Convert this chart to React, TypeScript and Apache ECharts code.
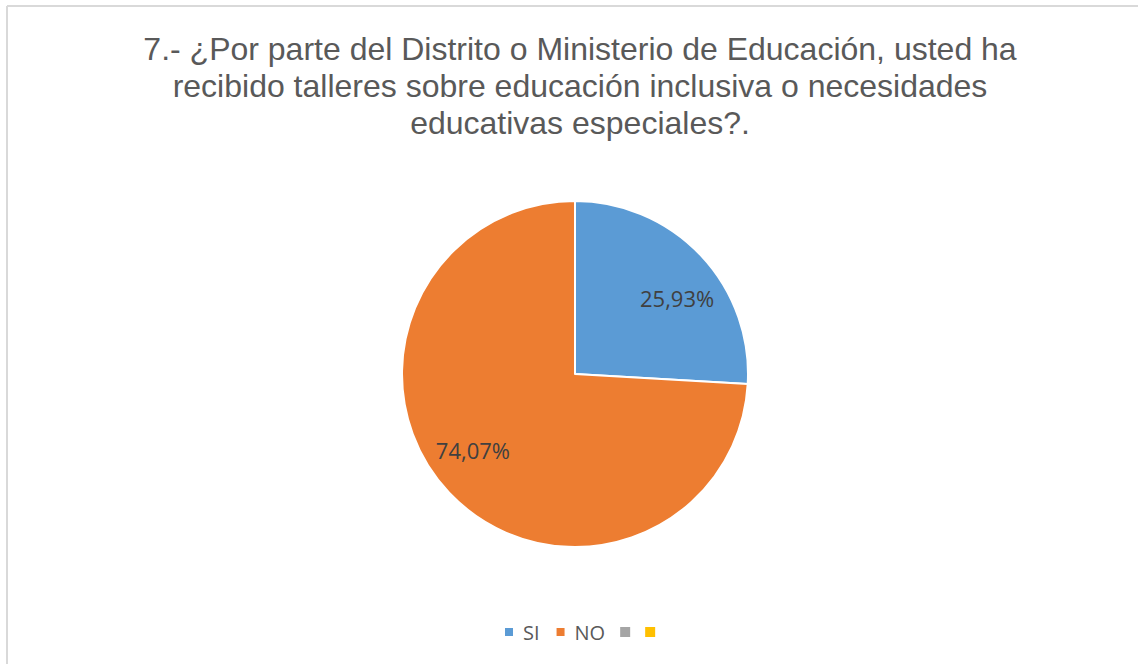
import React, { useEffect, useRef } from "react";
import * as echarts from "echarts";

const titleLines = [
  "7.- ¿Por parte del Distrito o Ministerio de Educación, usted ha",
  "recibido talleres sobre educación inclusiva o necesidades",
  "educativas especiales?.",
];
const categories = ["SI", "NO", "", ""];
const values = [25.93, 74.07, 0, 0];
const colors = ["#5B9BD5", "#ED7D31", "#A5A5A5", "#FFC000"];

const keyOf = (i: number) => categories[i] || `_empty${i}`;

export default function App() {
  const ref = useRef<HTMLDivElement>(null);
  useEffect(() => {
    if (!ref.current) return;
    const chart = echarts.init(ref.current, null, { renderer: "svg" });
    const center = [575, 374];
    const r = 173;
    const pieData = values.map((v, i) => ({
      name: keyOf(i),
      value: v,
      itemStyle: { color: colors[i], borderWidth: v > 0 ? 2 : 0 },
    }));
    const labelData = values.map((v, i) => ({
      name: keyOf(i),
      value: v,
      label: { show: v > 0 },
      itemStyle: { color: "transparent", borderWidth: 0 },
    }));
    chart.setOption({
      animation: false,
      backgroundColor: "#ffffff",
      title: {
        text: titleLines.join("\n"),
        left: 575,
        top: 25,
        textAlign: "center",
        textStyle: {
          fontFamily: "Liberation Sans, Arial, sans-serif",
          fontSize: 32,
          fontWeight: "normal",
          color: "#595959",
          lineHeight: 37,
        },
      },
      legend: {
        left: 498,
        top: 617,
        itemWidth: 10,
        itemHeight: 10,
        itemGap: 15,
        icon: "rect",
        data: categories.map((c, i) => ({
          name: keyOf(i),
          itemStyle: { color: colors[i] },
        })),
        formatter: (name: string) => {
          const idx = categories.findIndex((_, i) => keyOf(i) === name);
          return idx >= 0 ? categories[idx] : name;
        },
        textStyle: {
          fontFamily: "Open Sans, sans-serif",
          fontSize: 20,
          color: "#595959",
          padding: [0, 0, 0, 4],
        },
      },
      graphic: [
        { type: "line", shape: { x1: 7, y1: 6, x2: 1138, y2: 6 }, style: { stroke: "#d9d9d9", lineWidth: 2 } },
        { type: "line", shape: { x1: 7, y1: 6, x2: 7, y2: 664 }, style: { stroke: "#d9d9d9", lineWidth: 2 } },
      ],
      series: [
        {
          type: "pie",
          center,
          radius: r,
          startAngle: 90,
          clockwise: true,
          silent: true,
          label: { show: false },
          labelLine: { show: false },
          itemStyle: { borderColor: "#ffffff" },
          emphasis: { disabled: true },
          data: pieData,
        },
        {
          type: "pie",
          center,
          radius: r * 1.44,
          startAngle: 83.5,
          clockwise: true,
          silent: true,
          z: 5,
          label: {
            show: true,
            position: "inside",
            formatter: (p: any) => p.value.toFixed(2).replace(".", ",") + "%",
            fontFamily: "Open Sans, sans-serif",
            fontSize: 22,
            color: "#404040",
          },
          labelLine: { show: false },
          emphasis: { disabled: true },
          data: labelData,
        },
      ],
    });
    return () => chart.dispose();
  }, []);
  return (
    <div
      ref={ref}
      style={{ position: "absolute", left: 0, top: 0, width: 1138, height: 664 }}
    />
  );
}
